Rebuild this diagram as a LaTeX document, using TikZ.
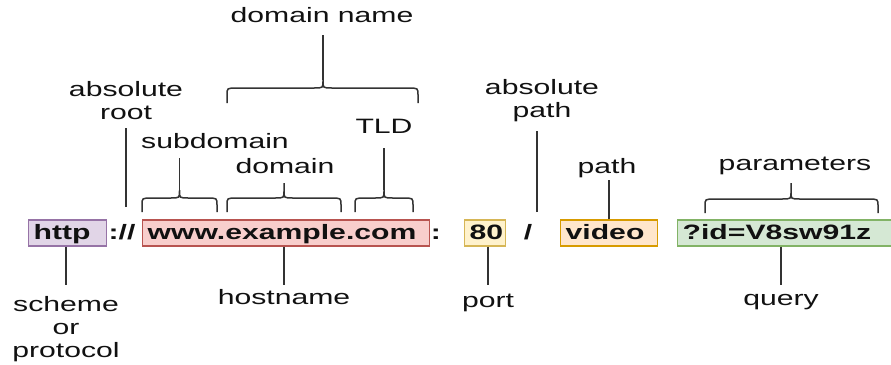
\documentclass[tikz,border=0pt]{standalone}
\usepackage{fontspec}
\setmainfont[FakeStretch=1.45]{Liberation Sans}
\definecolor{lncol}{HTML}{333333}
\definecolor{txtcol}{HTML}{111111}
\definecolor{schF}{HTML}{E1D5E7}\definecolor{schD}{HTML}{9673A6}
\definecolor{hstF}{HTML}{F8CECC}\definecolor{hstD}{HTML}{B85450}
\definecolor{prtF}{HTML}{FFF2CC}\definecolor{prtD}{HTML}{D6B656}
\definecolor{pthF}{HTML}{FFE6CC}\definecolor{pthD}{HTML}{D79B00}
\definecolor{qryF}{HTML}{D5E8D4}\definecolor{qryD}{HTML}{82B366}
\newcommand\mybrace[6]{%
  \draw[ln] (#1,#4) -- (#1,#5+7) .. controls (#1,#5) .. (#1+10,#5) -- (#3-9,#5)
    .. controls (#3,#5) .. (#3,#5-7) -- (#3,#6)
    (#3,#5-7) .. controls (#3,#5) .. (#3+9,#5) -- (#2-10,#5)
    .. controls (#2,#5) .. (#2,#5+7) -- (#2,#4);}
\begin{document}
\begin{tikzpicture}[x=1pt,y=-1pt,
  ln/.style={draw=lncol, line width=1.5pt},
  lab/.style={inner sep=0pt, text=txtcol, font=\fontsize{20.8}{23}\selectfont, align=center, anchor=base},
  urlbox/.style={anchor=west, line width=1.3pt, inner xsep=5pt, inner ysep=0pt, minimum height=26pt,
    text height=14pt, text depth=2pt, align=left, text=txtcol, font=\fontsize{20.8}{23}\selectfont\bfseries},
  sep/.style={inner sep=0pt, text height=14pt, text depth=2pt, text=txtcol, font=\fontsize{20.8}{23}\selectfont\bfseries}]
\useasboundingbox (0,0) rectangle (891,364);
% boxes
\node[urlbox, fill=schF, draw=schD, text width=68pt] (http) at (28,233) {http};
\node[sep] (colsl) at (122,233) {://};
\node[urlbox, fill=hstF, draw=hstD, text width=277pt] (host) at (142,233) {www.example.com};
\node[sep] (colon) at (436,233) {:};
\node[urlbox, fill=prtF, draw=prtD, text width=31pt] (port) at (464,233) {80};
\node[sep] (slash) at (528,233) {/};
\node[urlbox, fill=pthF, draw=pthD, text width=87pt] (video) at (560,233) {video};
\node[urlbox, fill=qryF, draw=qryD, text width=220pt] (query) at (677,233) {?id=V8sw91z};
% top labels
\node[lab] (dname) at (322,23) {domain name};
\node[lab] (tld) at (384,133) {TLD};
\node[lab] (subd) at (215,148) {subdomain};
\node[lab] (dom) at (285,173) {domain};
\node[lab] (absroot) at (126,119) {absolute\\root};
\node[lab] (abspath) at (542,117) {absolute\\path};
\node[lab] (pathl) at (607,173) {path};
\node[lab] (params) at (795,170) {parameters};
% bottom labels
\node[lab] (scheme) at (66,357) {scheme\\or\\protocol};
\node[lab] (hostl) at (284,304) {hostname};
\node[lab] (portl) at (488,307) {port};
\node[lab] (queryl) at (781,305) {query};
% braces
\mybrace{142}{217}{179.5}{212}{198}{190}
\mybrace{227}{341}{284}{212}{198}{183}
\mybrace{355}{413}{384}{212}{198}{190}
\mybrace{227}{418}{323}{103}{88}{80}
\mybrace{705}{878}{791}{213}{199}{183}
% brace connectors
\coordinate (subtip) at (179.5,190);
\coordinate (tldtip) at (384,190);
\coordinate (dntip) at (323,80);
\draw[ln] (subtip) -- (subtip |- 0,158);
\draw[ln] (tldtip) -- (tldtip |- 0,148);
\draw[ln] (dntip) -- (dntip |- 0,35);
% top connectors
\coordinate (rootend) at (126,207);
\coordinate (pathend) at (537,212);
\draw[ln] (rootend) -- (rootend |- 0,128);
\draw[ln] (pathend) -- (pathend |- 0,131);
\draw[ln] (video.north) -- (video.north |- 0,180);
% bottom connectors
\draw[ln] (scheme.north |- http.south) -- (scheme.north |- 0,285);
\draw[ln] (hostl.north |- host.south) -- (hostl.north |- 0,285);
\draw[ln] (portl.north |- port.south) -- (portl.north |- 0,285);
\draw[ln] (queryl.north |- query.south) -- (queryl.north |- 0,285);
\end{tikzpicture}
\end{document}
